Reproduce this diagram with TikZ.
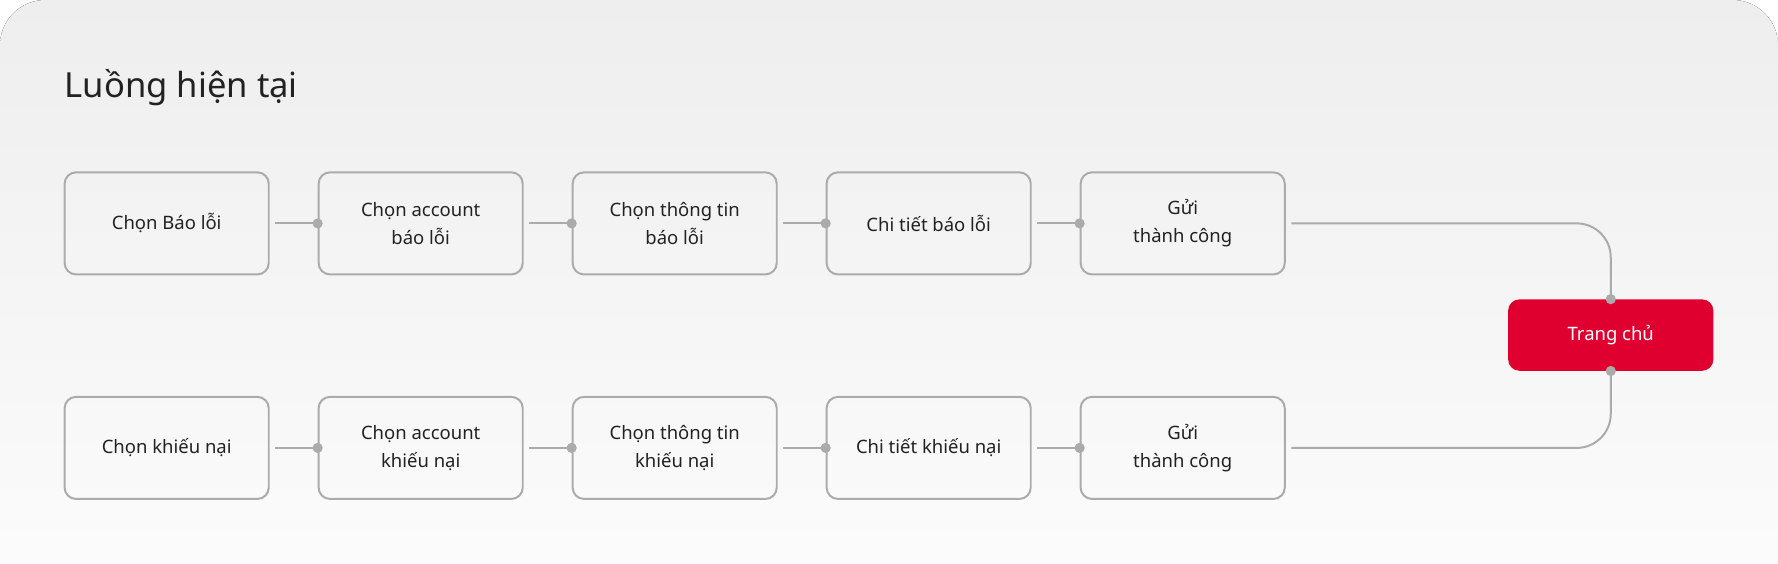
\documentclass[tikz,border=0pt]{standalone}
\usepackage{fontspec}
\setmainfont{Noto Sans}
\usepackage[rgb]{xcolor}
\usepackage{tikz}

\definecolor{bgtop}{HTML}{EEEEEE}
\definecolor{bgbot}{HTML}{FDFDFD}
\definecolor{linec}{HTML}{ABABAB}
\definecolor{textc}{HTML}{222222}
\definecolor{homered}{HTML}{E00030}

\begin{document}
\begin{tikzpicture}[x=1pt, y=-1pt,
  stepbox/.style={draw=linec, line width=1.75pt, rounded corners=10pt,
    minimum width=180pt, minimum height=90pt, inner sep=0pt, align=center,
    text=textc, font=\fontsize{16.3}{25}\selectfont},
  homebox/.style={fill=homered, rounded corners=10pt, minimum width=181pt,
    minimum height=63pt, inner sep=0pt, text=white,
    font=\fontsize{16.3}{25}\selectfont},
  link/.style={draw=linec, line width=1.75pt, shorten <=5pt},
  dot/.style={fill=linec}]

\useasboundingbox (0,0) rectangle (1568,497);

% Background card
\fill[top color=bgtop, bottom color=bgbot, rounded corners=40pt]
(0,0) rectangle (1568,560);

% Title
\path 
(57,86) node [anchor=base west, inner sep=0pt, text=textc,
  font=\fontsize{30.5}{36}\selectfont] (title) {Luồng hiện tại};

%
% Báo lỗi row
%

\path 
(147,197) node [stepbox] (t1) {Chọn Báo lỗi};

\path 
(371,197) node [stepbox] (t2) {Chọn account\\báo lỗi};

\path 
(595,197) node [stepbox] (t3) {Chọn thông tin\\báo lỗi};

\path 
(819,197) node [stepbox] (t4) {Chi tiết báo lỗi};

\path 
(1043,197) node [stepbox] (t5) {Gửi\\thành công};

%
% Khiếu nại row
%

\path 
(147,395) node [stepbox] (b1) {Chọn khiếu nại};

\path 
(371,395) node [stepbox] (b2) {Chọn account\\khiếu nại};

\path 
(595,395) node [stepbox] (b3) {Chọn thông tin\\khiếu nại};

\path 
(819,395) node [stepbox] (b4) {Chi tiết khiếu nại};

\path 
(1043,395) node [stepbox] (b5) {Gửi\\thành công};

% Home
\path 
(1420.5,295.5) node [homebox] (home) {Trang chủ};

%
% Links
%

\draw[link] (t1) -- (t2.west);
\draw[link] (t2) -- (t3.west);
\draw[link] (t3) -- (t4.west);
\draw[link] (t4) -- (t5.west);
\draw[link, rounded corners=30pt] (t5.east) -| (home.north);

\draw[link] (b1) -- (b2.west);
\draw[link] (b2) -- (b3.west);
\draw[link] (b3) -- (b4.west);
\draw[link] (b4) -- (b5.west);
\draw[link, rounded corners=30pt] (b5.east) -| (home.south);

% Dots
\fill[dot] (t2.west) circle (4.5pt);
\fill[dot] (t3.west) circle (4.5pt);
\fill[dot] (t4.west) circle (4.5pt);
\fill[dot] (t5.west) circle (4.5pt);
\fill[dot] (b2.west) circle (4.5pt);
\fill[dot] (b3.west) circle (4.5pt);
\fill[dot] (b4.west) circle (4.5pt);
\fill[dot] (b5.west) circle (4.5pt);
\fill[dot] (home.north) circle (4.5pt);
\fill[dot] (home.south) circle (4.5pt);

\end{tikzpicture}
\end{document}
